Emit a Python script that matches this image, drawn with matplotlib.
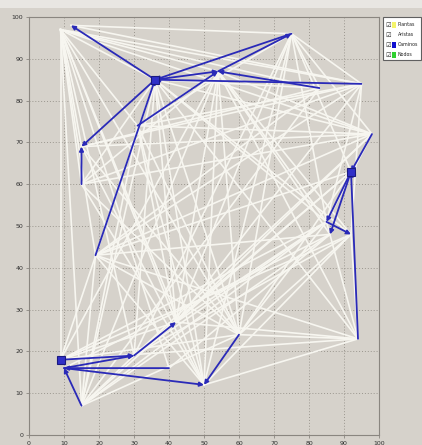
import matplotlib.pyplot as plt
from matplotlib.patches import FancyArrowPatch, Rectangle

# Nodos de la red (coordenadas)
nodos = {
    'A': (9, 97), 'B': (12, 98), 'C': (36, 85), 'D': (54, 87), 'E': (75, 96),
    'F': (95, 84), 'G': (83, 83), 'H': (98, 72), 'I': (92, 63), 'J': (85, 51),
    'K': (86, 48), 'L': (92, 48), 'M': (94, 23), 'N': (15, 69), 'O': (15, 60),
    'P': (19, 43), 'Q': (31, 74), 'R': (9, 18), 'S': (10, 16), 'T': (15, 7),
    'U': (30, 19), 'V': (42, 27), 'W': (50, 12), 'X': (60, 24), 'Y': (40, 16),
}

# Aristas (blancas)
aristas = [
    'AR', 'AT', 'AP', 'AO', 'AN', 'AU', 'AY', 'AW', 'AX', 'AC', 'AD', 'AF',
    'AH', 'AG', 'AV', 'AQ', 'BE', 'BF',
    'CR', 'CT', 'CU', 'CW', 'CX', 'CV', 'CM', 'CJ', 'CL', 'CH', 'CG', 'CO',
    'DT', 'DR', 'DV', 'DW', 'DX', 'DM', 'DJ', 'DL', 'DK', 'DH', 'DQ', 'DO',
    'EF', 'EH', 'EW', 'EX', 'EV', 'EJ', 'EI', 'EU', 'EQ', 'EG',
    'FO', 'FN', 'FQ', 'FP', 'FJ', 'FL', 'FV',
    'HO', 'HN', 'HQ', 'HP', 'HU', 'HV', 'HJ',
    'IP', 'IV', 'IX', 'IU',
    'JR', 'JU', 'JT', 'JV', 'JX',
    'KS', 'KT', 'KY', 'KP',
    'LR', 'LU', 'LW', 'LX',
    'MR', 'MW', 'MX', 'MV', 'MP', 'MJ', 'ML',
    'NX', 'NW', 'NG', 'OX', 'OW',
    'PT', 'PX', 'PW', 'PG',
    'QT', 'QX', 'QW', 'QV',
    'RV', 'RX', 'TV', 'TX', 'TU', 'TG',
]

# Caminos (azules, con flecha en el destino)
caminos = [
    'CB', 'CN', 'ON', 'PC', 'QD', 'CD', 'EC', 'GD', 'FC', 'DE',
    'HI', 'IJ', 'IK', 'JL', 'MI',
    'TS', 'SU', 'UV', 'YS', 'SW', 'XW', 'RU',
]

plantas = ['C', 'I', 'R']

bg = '#d6d2cb'
fig = plt.figure(figsize=(4.22, 4.45), dpi=100, facecolor=bg)
ax = fig.add_axes([29 / 422, 10 / 445, 350 / 422, 418 / 445], facecolor=bg)

for e in aristas:
    (x0, y0), (x1, y1) = nodos[e[0]], nodos[e[1]]
    ax.plot([x0, x1], [y0, y1], color='#f7f6f0', lw=1.2, zorder=2)

for e in caminos:
    p0, p1 = nodos[e[0]], nodos[e[1]]
    ax.add_patch(FancyArrowPatch(p0, p1, arrowstyle='-|>', mutation_scale=6,
                                 color='#2a2ab8', lw=1.3, shrinkA=0, shrinkB=0,
                                 zorder=4))

for k in plantas:
    x, y = nodos[k]
    ax.plot(x, y, marker='s', ms=5.5, mfc='#3030c8', mec='#1a1a80', mew=0.8, zorder=5)

ax.set_xlim(0, 100)
ax.set_ylim(0, 100)
ax.set_xticks(range(0, 101, 10))
ax.set_yticks(range(0, 101, 10))
ax.grid(True, color='#9a968e', ls=(0, (1, 2)), lw=0.7, zorder=1)
ax.tick_params(labelsize=4.5, length=2, width=0.6, color='#8a8680',
               labelcolor='#303030', pad=2)
for s in ax.spines.values():
    s.set_color('#8a8680')
    s.set_linewidth(0.8)

# Franja superior clara
fig.add_artist(Rectangle((0, 437 / 445), 1, 8 / 445, transform=fig.transFigure,
                         color='#e8e6e2', lw=0))

# Leyenda tipo panel con casillas
lx0, ly0 = 383 / 422, 1 - 60 / 445
fig.add_artist(Rectangle((lx0, ly0), 38 / 422, 43 / 445, transform=fig.transFigure,
                         facecolor='white', edgecolor='#606060', lw=0.8))
etiquetas = ['Plantas', 'Aristas', 'Caminos', 'Nodos']
colores = ['#f4f46a', 'white', '#1010d0', '#30d030']
for i, (t, c) in enumerate(zip(etiquetas, colores)):
    yy = 1 - (25 + i * 10) / 445
    fig.text(lx0 + 2 / 422, yy, '\u2611', fontsize=4.5, va='center', color='#303030')
    fig.add_artist(Rectangle((lx0 + 9 / 422, yy - 2.5 / 445), 4 / 422, 5 / 445,
                             transform=fig.transFigure, color=c, lw=0))
    fig.text(lx0 + 15 / 422, yy, t, fontsize=3.4, va='center', color='#202020')

fig.savefig('out.png', dpi=100, facecolor=bg)
